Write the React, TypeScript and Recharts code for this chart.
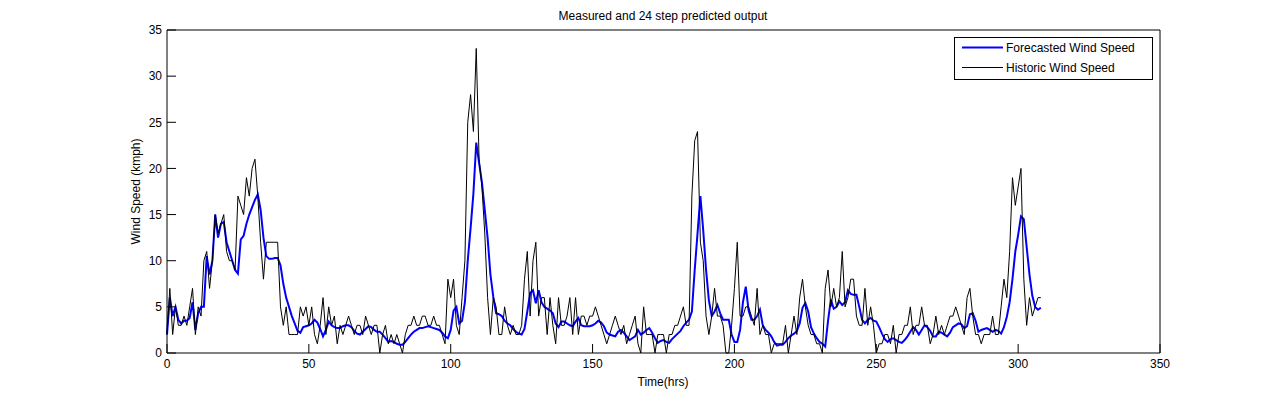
import React from 'react';
import { LineChart, Line, XAxis, YAxis } from 'recharts';

// hourly values, hour 0 .. 308
const historic = [
  2, 7, 2, 5, 3, 3, 4, 3, 5, 7, 2, 5, 4,
  10, 11, 7, 10, 15, 13, 14, 15, 11, 10, 10, 9, 17,
  16, 15, 19, 17, 20, 21, 17, 12, 8, 12, 12, 12, 12, 12, 5,
  3, 5, 2, 2, 2, 2, 5,
  4, 5, 3, 5, 2, 1, 3, 6, 2, 5, 3, 4, 1, 3, 2, 3, 4, 3, 2, 3,
  3, 2, 4, 3, 2, 3, 3, 0, 2, 3, 1, 2, 1, 2, 1, 0, 2, 3, 3, 4, 3, 3, 4, 4, 3, 3, 4, 3, 3, 2, 1,
  8, 6, 8, 3, 2, 6, 10, 25, 28, 24, 33, 21, 18, 13, 6, 2, 6, 5, 2, 2, 5, 3, 2, 3, 2,
  2, 3, 8, 11, 4, 10, 12, 4, 6, 6, 2, 6, 3, 1, 6, 3, 3, 4, 6, 2, 6, 2, 4, 4, 3, 4, 4, 5, 4, 3, 2, 1, 2, 3, 4, 3,
  2, 3, 1, 2, 3, 4, 1, 0, 5, 2, 2, 2, 0, 2, 2, 2, 0, 2, 2, 3, 3, 4, 5, 3, 3,
  17, 23, 24, 12, 10, 4, 2, 4, 7, 4, 4, 3, 0, 0, 3, 7, 12, 4, 4, 5,
  5, 4, 3, 7, 2, 3, 2, 2, 0, 1, 1, 1, 1, 3, 0, 2, 4, 2, 6, 8, 5, 3, 2, 2, 1, 1, 0, 7, 9, 5, 7, 5, 6, 11, 5, 6,
  8, 8, 4, 3, 3, 7, 3, 5, 3, 0, 1, 1, 2, 2, 1, 3, 0, 2, 2, 3, 3, 5, 2, 3, 3, 5, 3, 3, 1, 2, 4, 2, 3, 2, 3, 4, 4, 5, 4,
  3, 2, 6, 7, 4, 2, 2, 1, 2, 2, 2, 4, 2, 2, 5, 8, 6, 11, 19, 16, 18, 20, 8, 3, 6, 4, 5, 6, 6
];

const forecast = [
  2, 6, 4, 5, 3.6, 3.2, 3.5, 3.5, 3.8, 5.5, 2.5, 4.3, 5,
  5, 10.5, 8.5, 10, 15, 12.5, 14, 14.2, 12, 11, 10, 9, 8.6,
  12.3, 12.7, 14, 15, 15.8, 16.6, 17.2, 15.5, 12.5, 10.5, 10.2, 10.2, 10.3, 10.3, 9.5, 7.5, 6, 5, 4, 3.2, 2.4, 2.2, 2.8,
  2.9, 3.0, 3.2, 3.6, 3.3, 2.6, 1.8, 2.5, 3.4, 3.0, 2.8, 2.7, 2.7, 2.9, 3.0, 3.0, 2.8, 2.4, 2.1,
  2.0, 2.3, 2.6, 2.9, 2.8, 2.5, 2.3, 2.3, 2.0, 1.6, 1.2, 1.3, 1.2, 1.0, 0.9, 0.9, 1.2, 1.6, 2.0, 2.3,
  2.5, 2.7, 2.7, 2.8, 2.9, 2.8, 2.7, 2.6, 2.5, 2.2, 1.8,
  1.6, 2.5, 4.6, 5, 3.2, 3.5, 5.5, 10, 13.5, 17.3, 22.8, 20.6, 18.5, 15.5, 12.5, 8.5, 6.1, 4.3, 4.2, 4.0, 3.5, 3.2, 3.0, 2.6, 2.3,
  2.1, 2.0, 2.6, 4.5, 6.5, 6.8, 5.4, 6.8, 5.5, 5, 4.8, 4.6, 4.3, 3.2, 2.8, 3.4, 3.4, 3.2, 3.0, 2.9,
  3.4, 3.8, 3.0, 2.9, 2.9, 2.9, 3.0, 3.2, 3.5, 3.3, 2.9, 2.2, 2.0, 1.9, 1.8, 2.3,
  2.5, 2.2, 1.8, 1.4, 1.6, 1.8, 2.5, 2.0, 2.2, 2.5, 2.7, 2.2, 1.6, 1.1, 1.3, 1.4, 1.2, 1.1, 1.5, 1.8, 2.1, 2.4, 2.9, 3.3, 3.6,
  4.5, 9, 13, 17, 13.3, 9, 5.7, 4, 4.5, 5.2, 4.3, 3.6, 3.6, 3.6, 2, 1.2, 1.2, 2.5, 5.5, 7.2,
  4.6, 3.6, 3.6, 4, 4.7, 3, 2.5, 2.2, 1.8, 1.2, 0.8, 0.9, 0.9, 1.2, 1.6, 1.9, 2.1, 2.4, 3.2, 4.9,
  5.4, 4.5, 2.8, 2.1, 1.6, 1.2, 1.0, 0.7, 3.5, 5.8, 4.8, 5, 5.6, 5.2, 5.5, 6.8,
  6.4, 6.3, 6.3, 5, 3.6, 3.2, 3.6, 3.8, 3.5, 3.4, 2.8, 2.1, 1.5, 1.2, 1.5, 1.6, 1.4, 1.2, 1.1, 1.4,
  1.8, 2.3, 2.8, 2.5, 2.0, 2.5, 3.0, 2.8, 2.4, 1.8, 1.8, 2.3, 2.2, 2.0, 1.8, 2.2, 2.8, 3.0, 3.2,
  3.1, 2.7, 2.9, 4.2, 4.3, 3.5, 2.3, 2.5, 2.6, 2.7, 2.5, 2.3, 2.5, 2.4, 2.1, 2.8, 3.9, 5.5, 8, 11,
  12.8, 14.8, 14.5, 11.5, 8.5, 6.2, 5, 4.7, 4.9
];

const xTicks = [0, 50, 100, 150, 200, 250, 300, 350];
const yTicks = [0, 5, 10, 15, 20, 25, 30, 35];

const data = historic.map((h, i) => ({ hour: i, historic: h, forecast: forecast[i] }));

const font = '"Liberation Sans", Arial, Helvetica, sans-serif';
const labelStyle = { fill: '#000', fontSize: 12, fontFamily: font };
// negative size draws the MATLAB style tick marks pointing into the plot
const TICK = -9;
const tickLineStyle = { stroke: '#000', strokeWidth: 1 };

export default function App() {
  return (
    <div style={{ position: 'fixed', left: 0, top: 0, width: 1281, height: 397, background: '#fff', fontFamily: font }}>
      <LineChart width={1281} height={397} data={data} margin={{ top: 29, right: 120, bottom: 0, left: 0 }}>
        <XAxis
          xAxisId="b"
          dataKey="hour"
          type="number"
          domain={[0, 350]}
          ticks={xTicks}
          interval={0}
          height={44}
          stroke="#000"
          tickLine={tickLineStyle}
          tickSize={TICK}
          tickMargin={6 - TICK}
          tick={labelStyle}
        />
        <XAxis
          xAxisId="t"
          dataKey="hour"
          type="number"
          orientation="top"
          domain={[0, 350]}
          ticks={xTicks}
          interval={0}
          height={1}
          stroke="#000"
          tickLine={tickLineStyle}
          tickSize={TICK}
          tick={false}
        />
        <YAxis
          yAxisId="l"
          type="number"
          domain={[0, 35]}
          ticks={yTicks}
          interval={0}
          width={167}
          stroke="#000"
          tickLine={tickLineStyle}
          tickSize={TICK}
          tickMargin={5 - TICK}
          tick={labelStyle}
        />
        <YAxis
          yAxisId="r"
          type="number"
          orientation="right"
          domain={[0, 35]}
          ticks={yTicks}
          interval={0}
          width={1}
          stroke="#000"
          tickLine={tickLineStyle}
          tickSize={TICK}
          tick={false}
        />
        <Line
          xAxisId="b"
          yAxisId="l"
          type="linear"
          dataKey="forecast"
          stroke="#0000ff"
          strokeWidth={2}
          dot={false}
          isAnimationActive={false}
        />
        <Line
          xAxisId="b"
          yAxisId="l"
          type="linear"
          dataKey="historic"
          stroke="#000"
          strokeWidth={1}
          dot={false}
          isAnimationActive={false}
        />
      </LineChart>

      {/* title, axis labels and legend box drawn on top */}
      <svg width={1281} height={397} style={{ position: 'absolute', left: 0, top: 0, pointerEvents: 'none' }}>
        <text x={663} y={20} textAnchor="middle" fontSize={12} fontFamily={font} fill="#000">
          Measured and 24 step predicted output
        </text>
        <text x={663} y={386} textAnchor="middle" fontSize={12} fontFamily={font} fill="#000">
          Time(hrs)
        </text>
        <text
          x={140}
          y={191.5}
          textAnchor="middle"
          fontSize={12}
          fontFamily={font}
          fill="#000"
          transform="rotate(-90 140 191.5)"
        >
          Wind Speed (kmph)
        </text>
        <rect x={954.5} y={37.5} width={198} height={42} fill="#fff" stroke="#000" strokeWidth={1} />
        <line x1={962} y1={47.5} x2={1003} y2={47.5} stroke="#0000ff" strokeWidth={2} />
        <text x={1006} y={52} fontSize={12} fontFamily={font} fill="#000">Forecasted Wind Speed</text>
        <line x1={962} y1={67.5} x2={1003} y2={67.5} stroke="#000" strokeWidth={1} />
        <text x={1006} y={72} fontSize={12} fontFamily={font} fill="#000">Historic Wind Speed</text>
      </svg>
    </div>
  );
}
